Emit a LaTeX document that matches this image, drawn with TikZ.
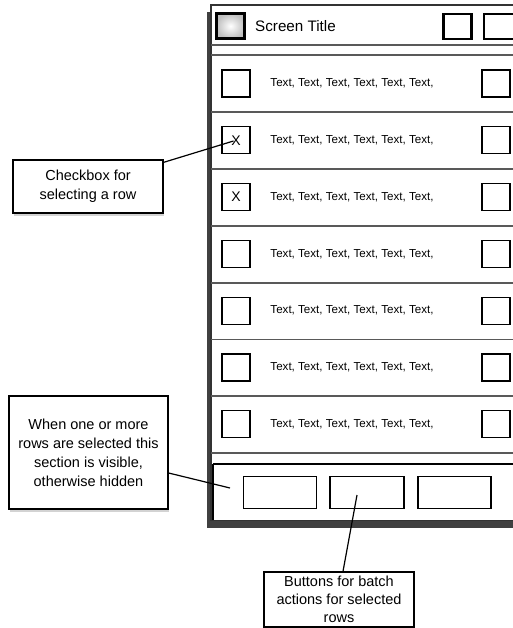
\documentclass[tikz,border=0pt]{standalone}
\usepackage{fontspec}
\setmainfont{Liberation Sans}
\usetikzlibrary{shadows}
\begin{document}
\begin{tikzpicture}[x=1pt,y=-1pt,
  callout/.style={draw=black,line width=1.3pt,fill=white,align=center,inner sep=0pt,
    font=\fontsize{14.5}{19}\selectfont,
    drop shadow={opacity=0.35,shadow xshift=1pt,shadow yshift=-2.5pt}},
  chk/.style={draw=black,line width=1.2pt,minimum width=28pt,minimum height=27pt,inner sep=0pt,font=\fontsize{14}{16}\selectfont},
  hicon/.style={draw=black,line width=2.6pt,minimum width=28pt,minimum height=25pt,inner sep=0pt},
  btn/.style={draw=black,line width=1.3pt,minimum width=73pt,minimum height=32pt,inner sep=0pt},
  rowtext/.style={font=\fontsize{11.6}{13}\selectfont,inner sep=0pt},
  sep/.style={draw=black!65,line width=1.6pt},
  leader/.style={draw=black,line width=1.2pt}]
\useasboundingbox (0,0) rectangle (513,628);
\begin{scope}
\clip (0,0) rectangle (513,628);
% frame with shadow
\fill[black!75] (207,12) rectangle (540,528);
\filldraw[fill=white,draw=black!80,line width=1.3pt] (211,5) rectangle (540,520.5);
% header
\draw[sep] (211,45) -- (540,45);
\draw[sep] (211,55) -- (540,55);
\node[hicon,inner color=white,outer color=black!25] (hleft) at (230.5,26) {};
\node[anchor=west,inner sep=0pt,font=\fontsize{15.2}{17}\selectfont] (title) at (255,26) {Screen Title};
\node[hicon,fill=white] (hr1) at (457.5,26.5) {};
\node[hicon,fill=white,minimum width=30pt] (hr2) at (499,26.5) {};
% rows
\foreach \i/\c/\m in {1/83.5/,2/140.3/X,3/197.1/X,4/253.9/,5/310.7/,6/367.5/,7/424.3/}{
  \node[chk] (cb\i) at (236,\c) {\m};
  \node[rowtext] (rt\i) at (352,\c) {Text, Text, Text, Text, Text, Text,};
  \node[chk] (rb\i) at (496,\c) {};
}
\foreach \y in {112,169,226,283,339.5,396,453}{
  \draw[sep] (211,\y) -- (540,\y);
}
% bottom panel
\draw[black,line width=1.6pt] (213,464) -- (540,464);
\draw[black,line width=1.6pt] (213,464) -- (213,520);
\node[btn] (btn1) at (280,492.5) {};
\node[btn,minimum width=74pt] (btn2) at (367,492.5) {};
\node[btn] (btn3) at (454.5,492.5) {};
\end{scope}
% callouts
\node[callout,minimum width=150pt,minimum height=53pt] (call1) at (88,186.5) {Checkbox for\\selecting a row};
\node[callout,minimum width=159pt,minimum height=113pt] (call2) at (88.5,452.5) {When one or more\\rows are selected this\\section is visible,\\otherwise hidden};
\node[callout,minimum width=150pt,minimum height=55pt,font=\fontsize{14.5}{18}\selectfont] (call3) at (339,599.5) {Buttons for batch\\actions for selected\\rows};
% leaders
\coordinate (p1) at (233.5,141);
\coordinate (p2) at (230,488);
\coordinate (p3) at (357,495);
\draw[leader] ([yshift=-3pt]call1.north east) -- (p1);
\draw[leader] ([yshift=-20.5pt]call2.east) -- (p2);
\draw[leader] (p3) -- ([xshift=4pt]call3.north);
\end{tikzpicture}
\end{document}
